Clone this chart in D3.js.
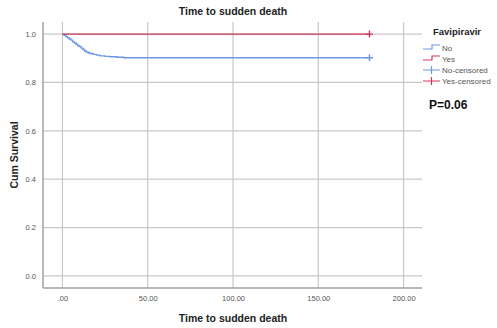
<!DOCTYPE html>
<html>
<head>
<meta charset="utf-8">
<script src="https://cdn.jsdelivr.net/npm/d3@7"></script>
<style>
body { margin: 0; background: #fff; }
text { font-family: Arial, "Liberation Sans", sans-serif; }
</style>
</head>
<body>
<div id="chart-area"></div>
<script>
// data
var xTicks = [0, 50, 100, 150, 200];
var yTicks = [0, 0.2, 0.4, 0.6, 0.8, 1.0];
var noTimes = [0, 1, 2, 3, 4, 5, 6, 7, 8, 9, 10, 11, 12, 13, 14, 15, 16, 18, 20, 22, 25, 28, 32, 36, 180];
var noSurv = [1.0, 0.995, 0.99, 0.985, 0.98, 0.975, 0.968, 0.963, 0.958, 0.952, 0.948, 0.942, 0.936, 0.930, 0.926, 0.923, 0.920, 0.916, 0.913, 0.910, 0.908, 0.906, 0.904, 0.902, 0.902];
var yesTimes = [0, 180];
var yesSurv = [1.0, 1.0];
var legendLabels = ["No", "Yes", "No-censored", "Yes-censored"];
var colors = { No: "#6d98e3", Yes: "#d3365a" };

var margin = { left: 43, right: 75, top: 22, bottom: 40 };
var width = 497 - margin.left - margin.right;
var height = 328 - margin.top - margin.bottom;

var svg = d3.select("#chart-area").append("svg")
    .attr("width", 497)
    .attr("height", 328);
var g = svg.append("g")
    .attr("transform", "translate(" + margin.left + ", " + margin.top + ")");

var x = d3.scaleLinear().domain([-11.4, 210.8]).range([0, width]);
var y = d3.scaleLinear().domain([-0.05, 1.05]).range([height, 0]);

// grid
g.selectAll(".vgrid").data(xTicks).enter().append("line")
    .attr("x1", (d) => x(d)).attr("x2", (d) => x(d))
    .attr("y1", 0).attr("y2", height)
    .attr("stroke", "#c8c8c8").attr("stroke-width", 1.2);
g.selectAll(".hgrid").data(yTicks).enter().append("line")
    .attr("x1", 0).attr("x2", width)
    .attr("y1", (d) => y(d)).attr("y2", (d) => y(d))
    .attr("stroke", "#c8c8c8").attr("stroke-width", 1.2);

// axes
var xAxis = d3.axisBottom(x).tickValues(xTicks).tickSize(0).tickPadding(8)
    .tickFormat((d) => d === 0 ? ".00" : d3.format(".2f")(d));
g.append("g")
    .attr("class", "x-axis")
    .attr("transform", "translate(0, " + height + ")")
    .call(xAxis);
var yAxis = d3.axisLeft(y).tickValues(yTicks).tickSize(0).tickPadding(7)
    .tickFormat(d3.format(".1f"));
g.append("g")
    .attr("class", "y-axis")
    .call(yAxis);
g.selectAll(".domain").attr("stroke", "#a0a0a0").attr("stroke-width", 1.5);
g.selectAll(".tick text").attr("font-size", "7.5px").attr("fill", "#555");
g.select(".y-axis .domain").attr("d", "M0,0V" + height);
g.select(".x-axis .domain").attr("d", "M0,0H" + width);

// curves
var line = d3.line().curve(d3.curveStepAfter).x((d) => x(d[0])).y((d) => y(d[1]));
var series = [
    { name: "No", pts: d3.zip(noTimes, noSurv) },
    { name: "Yes", pts: d3.zip(yesTimes, yesSurv) }
];
series.forEach((s) => {
    g.append("path")
        .attr("d", line(s.pts))
        .attr("fill", "none")
        .attr("stroke", colors[s.name])
        .attr("stroke-width", 1.4);
    var last = s.pts[s.pts.length - 1];
    var cx = x(last[0]), cy = y(last[1]);
    g.append("path")
        .attr("d", "M" + (cx - 3.5) + "," + cy + "H" + (cx + 3.5) + "M" + cx + "," + (cy - 3.5) + "V" + (cy + 3.5))
        .attr("stroke", colors[s.name]).attr("stroke-width", 1.4);
});

// titles
svg.append("text")
    .attr("x", 233).attr("y", 15)
    .attr("text-anchor", "middle")
    .attr("font-size", "10.5px").attr("font-weight", "bold").attr("fill", "#222")
    .text("Time to sudden death");
svg.append("text")
    .attr("x", 233).attr("y", 322)
    .attr("text-anchor", "middle")
    .attr("font-size", "10.5px").attr("font-weight", "bold").attr("fill", "#222")
    .text("Time to sudden death");
svg.append("text")
    .attr("x", -155).attr("y", 18)
    .attr("transform", "rotate(-90)")
    .attr("text-anchor", "middle")
    .attr("font-size", "10.5px").attr("font-weight", "bold").attr("fill", "#222")
    .text("Cum Survival");

// legend
svg.append("text")
    .attr("x", 433).attr("y", 35)
    .attr("font-size", "9.5px").attr("font-weight", "bold").attr("fill", "#222")
    .text("Favipiravir");
var lg = svg.append("g");
legendLabels.forEach((lab, i) => {
    var ly = 48 + i * 11;
    var c = lab.indexOf("No") === 0 ? colors.No : colors.Yes;
    if (i < 2) {
        lg.append("path")
            .attr("d", "M423," + (ly + 1) + "H432V" + (ly - 3) + "H440")
            .attr("fill", "none").attr("stroke", c).attr("stroke-width", 1.2);
    } else {
        lg.append("path")
            .attr("d", "M423," + ly + "H440M431.5," + (ly - 4) + "V" + (ly + 4))
            .attr("stroke", c).attr("stroke-width", 1.2);
    }
    lg.append("text")
        .attr("x", 442).attr("y", ly + 3)
        .attr("font-size", "8px").attr("fill", "#555")
        .text(lab);
});
svg.append("text")
    .attr("x", 429).attr("y", 109)
    .attr("font-size", "12px").attr("font-weight", "bold").attr("fill", "#111")
    .text("P=0.06");
</script>
</body>
</html>
